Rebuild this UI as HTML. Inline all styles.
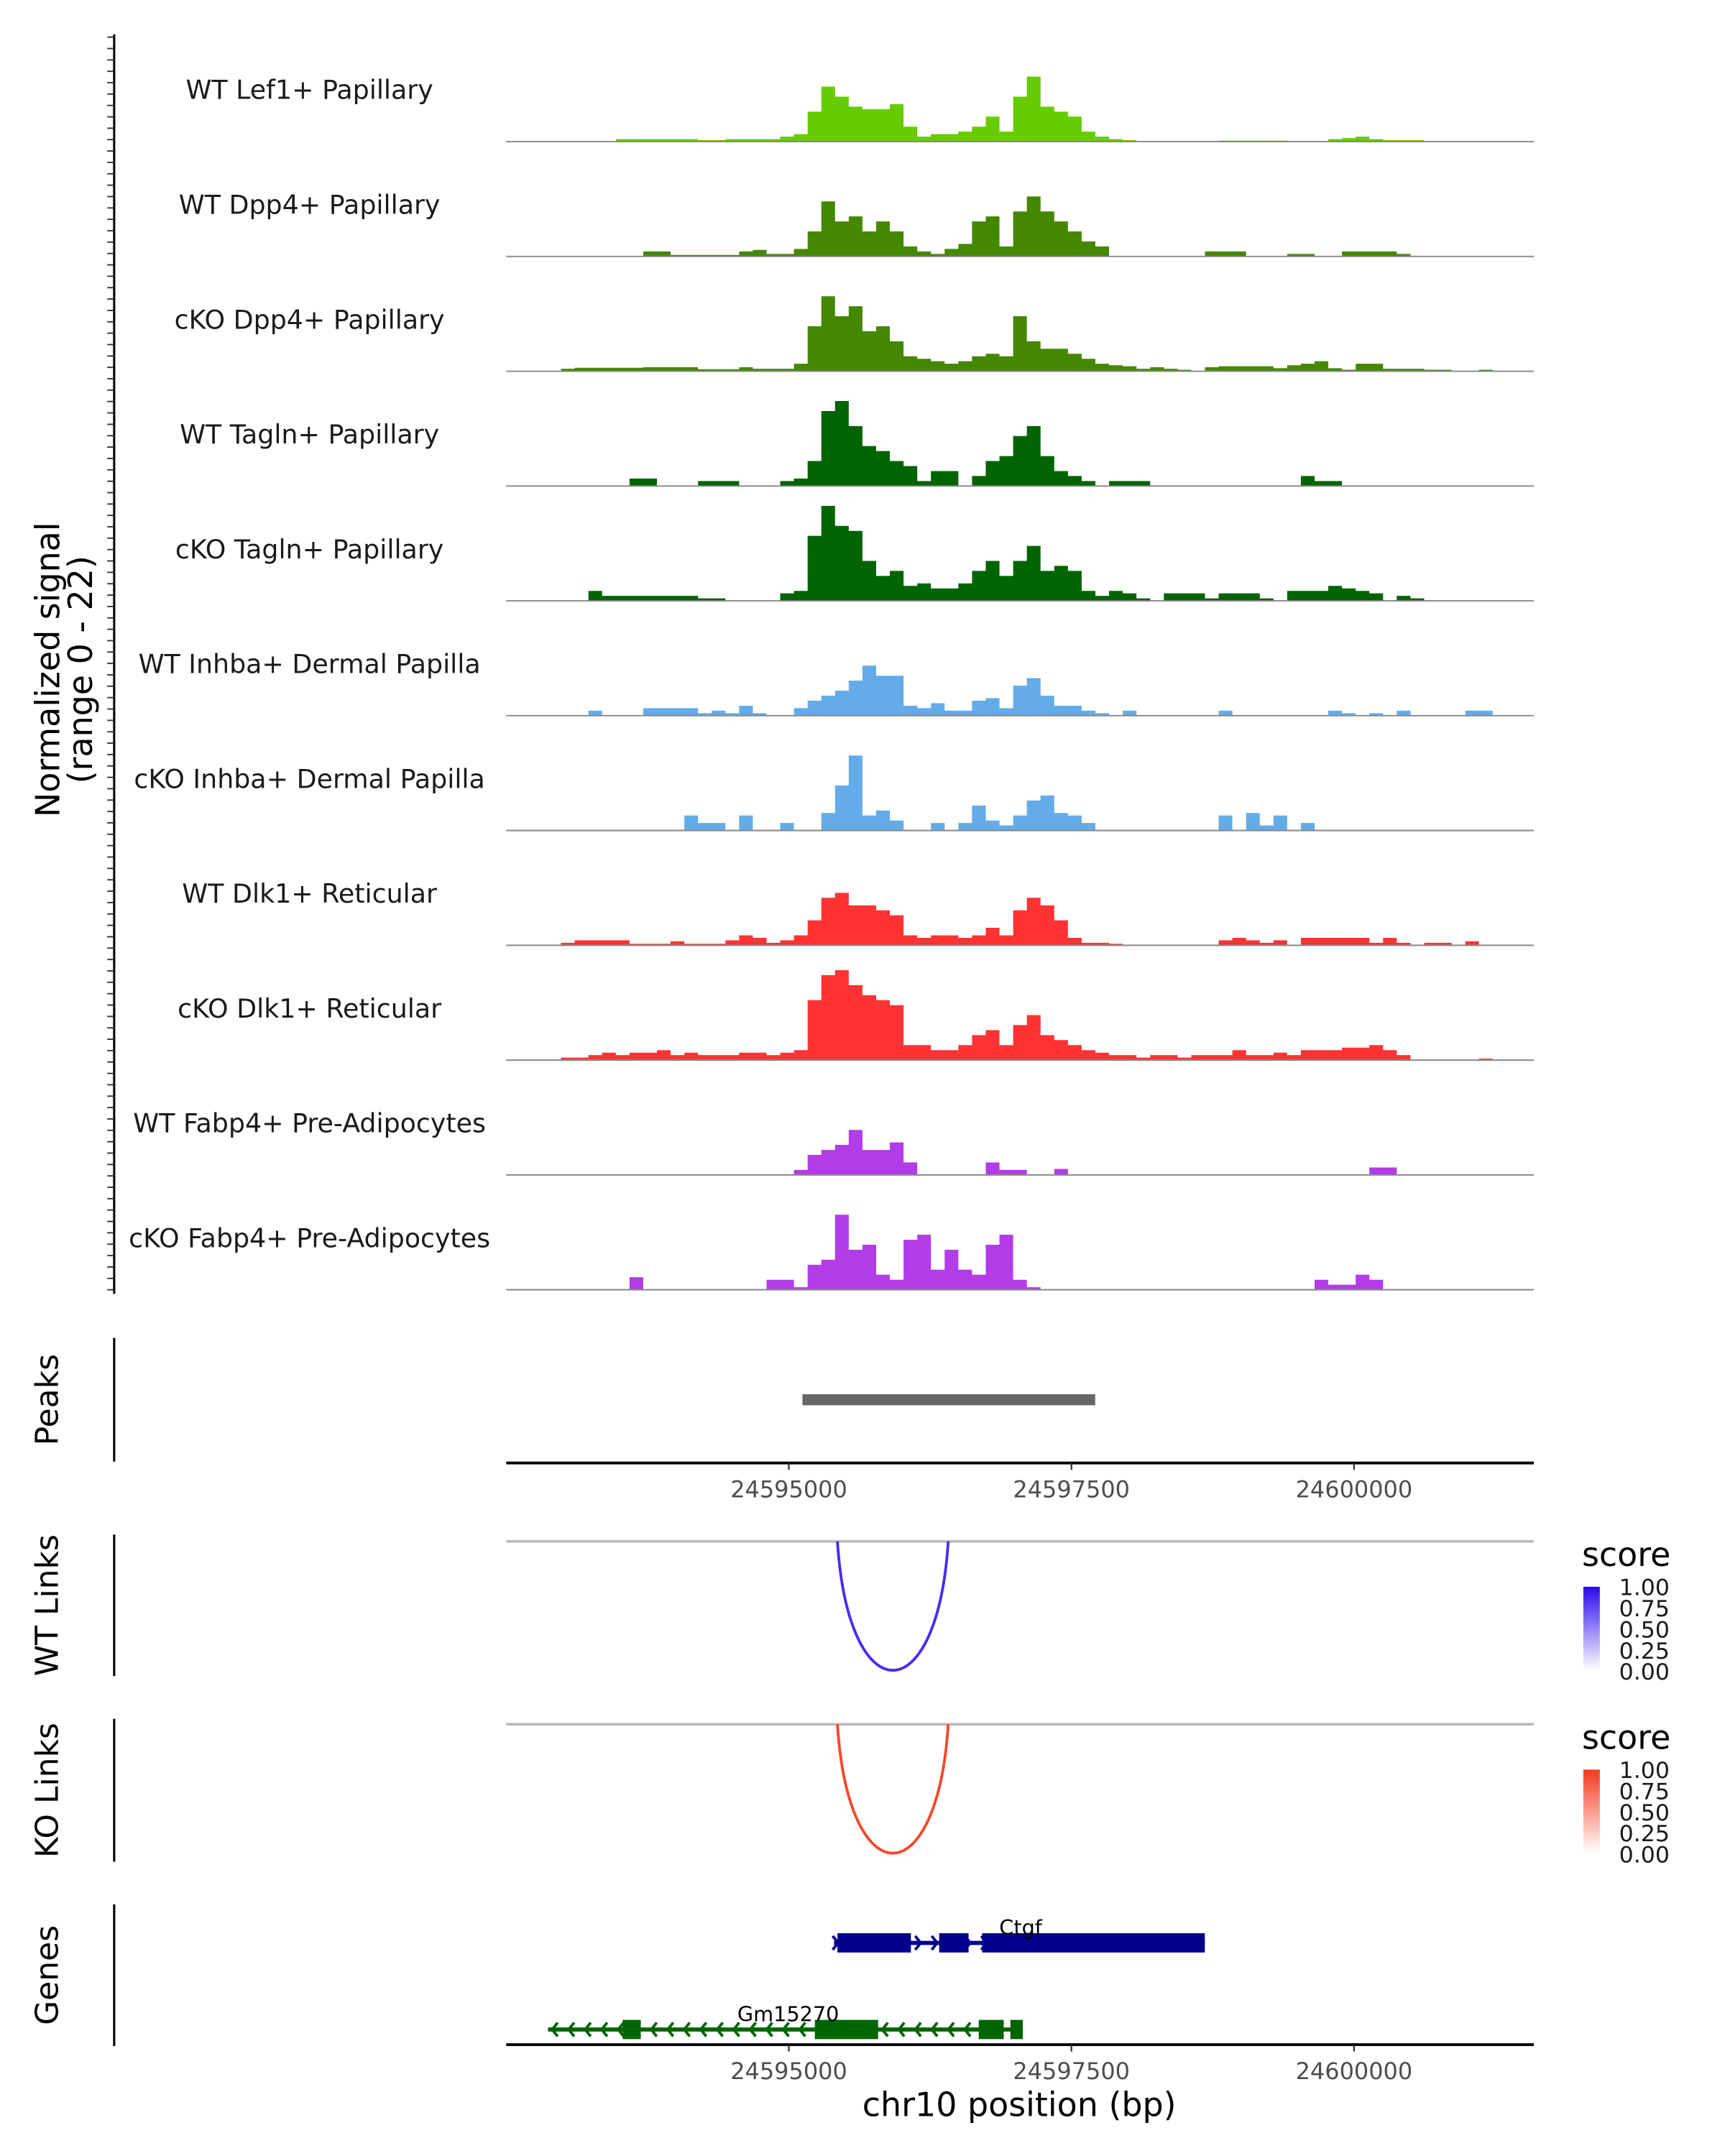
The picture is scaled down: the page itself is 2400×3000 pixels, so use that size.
<!DOCTYPE html>
<html><head><meta charset="utf-8"><style>
html,body{margin:0;padding:0;background:#fff}
svg{display:block}
text{font-family:"DejaVu Sans","Liberation Sans",sans-serif}
</style></head><body>
<svg id="chart" width="2400" height="3000" viewBox="0 0 1254 1568" preserveAspectRatio="none" xmlns="http://www.w3.org/2000/svg">
<rect width="1254" height="1568" fill="#fff"/>
<g id="tracks"></g>
<g id="axes"></g>
</svg>
<script>
const trackNames = ["WT Lef1+ Papillary","WT Dpp4+ Papillary","cKO Dpp4+ Papillary","WT Tagln+ Papillary","cKO Tagln+ Papillary","WT Inhba+ Dermal Papilla","cKO Inhba+ Dermal Papilla","WT Dlk1+ Reticular","cKO Dlk1+ Reticular","WT Fabp4+ Pre-Adipocytes","cKO Fabp4+ Pre-Adipocytes"];
const trackColors = ["#66cc00","#448800","#448800","#006400","#006400","#63ace8","#63ace8","#ff3333","#ff3333","#b13ce8","#b13ce8"];
// 75 bins each, normalized signal (0-22)
const s0 = [0,0,0,0,0,0,0,0,0.5,0.5,0.5,0.5,0.5,0.5,0.3,0.3,0.5,0.5,0.5,0.5,1,1.5,6,11,9,7,6.5,6.5,7.5,3,1,1.5,1.5,2,3,5,2,9,13,7,6,5,2,1,0.5,0.3,0,0,0,0,0,0,0.2,0.2,0.2,0.2,0.2,0,0,0,0.5,0.7,1,0.5,0.3,0.3,0.3,0,0,0,0,0,0,0,0];
const s1 = [0,0,0,0,0,0,0,0,0,0,1,1,0.3,0.3,0.3,0.3,0.3,1,1.3,0.5,0.5,1.5,5,11,7,8,5,7,5,2,1,0.5,1.5,2.5,7,8,2,9,12,9,7,5,3,2,0,0,0,0,0,0,0,1,1,1,0,0,0,0.5,0.5,0,0,1,1,1,1,0.5,0,0,0,0,0,0,0,0,0];
const s2 = [0,0,0,0,0.5,0.7,0.7,0.7,0.7,0.7,0.8,0.8,0.8,0.8,0.4,0.4,0.4,0.8,0.5,0.5,0.5,1.5,9,15,11,13,8,9,6,3,2.5,2,1.5,2,3,3.5,3,11,6,4.5,4.5,3.5,2.5,1.5,1.2,1,0.5,0.8,0.5,0.3,0,0.8,1,1,1,1,0.6,1.2,1.5,2,0.6,0.3,1.5,1.5,0.5,0.5,0.5,0.3,0.3,0,0,0.3,0,0,0];
const s3 = [0,0,0,0,0,0,0,0,0,1.5,1.5,0,0,0,1,1,1,0,0,0,1,1.5,5,15,17,12,8,7,5,4,1,3,3,0,2,5,6,10,12,6,3,2,1,0,1,1,1,0,0,0,0,0,0,0,0,0,0,0,2,1,1,0,0,0,0,0,0,0,0,0,0,0,0,0,0];
const s4 = [0,0,0,0,0,0,2,1,1,1,1,1,1,1,0.5,0.5,0,0,0,0,1.5,2,13,19,15,14,8,5,6,3,3.5,2.5,2.5,3.5,6,8,5,8,11,6,7,6,2,1,2,1.5,0.5,0,1.5,1.5,1.5,0.5,1.5,1.5,1.5,0.5,0,2,2,2,3,2.5,2,1.5,0,1,0.5,0,0,0,0,0,0,0,0];
const s5 = [0,0,0,0,0,0,1,0,0,0,1.5,1.5,1.5,1.5,0.5,1,0.5,2,0.5,0,0,1.5,3,4,5,7,10,8,8,2,1.5,2.5,1,1,3,3.5,1.5,6,7.5,4,2,2,1,0.5,0,1,0,0,0,0,0,0,1,0,0,0,0,0,0,0,1,0.5,0,0.5,0,1,0,0,0,0,1,1,0,0,0];
const s6 = [0,0,0,0,0,0,0,0,0,0,0,0,0,3,1.5,1.5,0,3,0,0,1.5,0,0,3.5,9,15,3,4,2,0,0,1.5,0,1.5,5,2,1,3,6,7,3.5,3,1.5,0,0,0,0,0,0,0,0,0,3,0,3.5,1,3,0,1.5,0,0,0,0,0,0,0,0,0,0,0,0,0,0,0,0];
const s7 = [0,0,0,0,0.5,1,1,1,1,0.3,0.3,0.3,0.8,0.3,0.3,0.3,1,2,1.5,0.5,1,2,5,9.5,10.5,8,8,7,6,2,1.5,2,2,1.5,2,3.5,2,7,9.5,8,5,1.5,0.5,0.5,0.3,0,0,0,0,0,0,0,1,1.5,1,0.5,1,0,1.5,1.5,1.5,1.5,1.5,0.5,1.5,0.5,0,0.5,0.5,0,0.8,0,0,0,0];
const s8 = [0,0,0,0,0.5,0.5,1,1.5,1,1.5,1.5,2,1,1.5,1,1,1,1.5,1.5,1,1.5,2,12,17,18,15,13,12,11,3,3,2,2,3,5,6,3,7,9,5,4,3,2,1.5,1,1,0.5,1,1,0.5,1,1,1,2,1,1,1.5,1,2,2,2,2.5,2.5,3,2,1,0,0,0,0,0,0.3,0,0,0];
const s9 = [0,0,0,0,0,0,0,0,0,0,0,0,0,0,0,0,0,0,0,0,0,1,4,5,6,9,5,5,6.5,2.5,0,0,0,0,0,2.5,1,1,0,0,1.2,0,0,0,0,0,0,0,0,0,0,0,0,0,0,0,0,0,0,0,0,0,0,1.5,1.5,0,0,0,0,0,0,0,0,0,0];
const s10 = [0,0,0,0,0,0,0,0,0,2.5,0,0,0,0,0,0,0,0,0,2,2,0.5,5,6,15,8,9,3,2,10,11,4,8,4,3,9,11,2,0.5,0,0,0,0,0,0,0,0,0,0,0,0,0,0,0,0,0,0,0,0,2,1,1,3,2,0,0,0,0,0,0,0,0,0,0,0];
const seriesValues = [s0,s1,s2,s3,s4,s5,s6,s7,s8,s9,s10];
const xTicks = [24595000,24597500,24600000];
const xTickLabels = ["24595000","24597500","24600000"];
const peakRanges = [[24595120,24597710]];
const linkArcs = [[24595430,24596410]];
const legendTicks = ["1.00","0.75","0.50","0.25","0.00"];
const ctgfExons = [[24595430,24596080],[24596330,24596590],[24596710,24598680]];
const ctgfSpan = [24595400,24598680];
const gmExons = [[24593530,24593690],[24595230,24595790],[24596680,24596900],[24596960,24597070]];
const gmSpan = [24592870,24597070];

const NS="http://www.w3.org/2000/svg";
const X0=368,X1=1115,BP0=24592500,BP1=24601590;
const xs = bp => X0+(bp-BP0)/(BP1-BP0)*(X1-X0);
const tracksG=document.getElementById('tracks');
const axesG=document.getElementById('axes');
function el(tag,attrs,parent,txt){const e=document.createElementNS(NS,tag);for(const k in attrs)e.setAttribute(k,attrs[k]);if(txt!==undefined)e.textContent=txt;parent.appendChild(e);return e;}
const TH=83.5, B0=103, YMAX=22, H=80;
seriesValues.forEach((vals,t)=>{
  const base=B0+t*TH;
  const g=el('g',{},tracksG);
  
  
  const n=vals.length, w=(X1-X0)/n;
  let d='M'+X0+','+base;
  vals.forEach((v,i)=>{const y=base-v/YMAX*H;d+=' L'+(X0+i*w).toFixed(2)+','+y.toFixed(2)+' L'+(X0+(i+1)*w).toFixed(2)+','+y.toFixed(2);});
  d+=' L'+X1+','+base+' Z';
  const p=el('path',{d:d,fill:trackColors[t]},g);
  
  
  const bl=el('line',{x1:X0,x2:X1,y1:base,y2:base,stroke:'#888','stroke-width':1},g);
  
  
  const lab=el('text',{x:225,y:base-31,'font-size':19,'text-anchor':'middle',fill:'#1a1a1a'},g,trackNames[t]);
  
  
});
el('line',{x1:83,x2:83,y1:25,y2:941,stroke:'#000','stroke-width':1.6},axesG);
for(let i=0;i<=110;i++){const y=27+i*(938-27)/110;const tk=el('line',{x1:78,x2:83,y1:y,y2:y,stroke:'#333','stroke-width':1},axesG);}
el('text',{x:0,y:0,'font-size':24,'text-anchor':'middle',transform:'translate(43,487) rotate(-90)'},axesG,'Normalized signal');
el('text',{x:0,y:0,'font-size':24,'text-anchor':'middle',transform:'translate(67,487) rotate(-90)'},axesG,'(range 0 - 22)');
function sidePanel(y1,y2,title,name){const l=el('line',{x1:83,x2:83,y1:y1,y2:y2,stroke:'#000','stroke-width':1.6},axesG);
 const t=el('text',{x:0,y:0,'font-size':23,'text-anchor':'middle',transform:'translate(42,'+((y1+y2)/2)+') rotate(-90)'},axesG,title);}
sidePanel(973,1063,'Peaks','peaks');
sidePanel(1116,1219,'WT Links','wt-links');
sidePanel(1250,1354,'KO Links','ko-links');
sidePanel(1385,1488,'Genes','genes');
peakRanges.forEach(r=>{const pk=el('rect',{x:xs(r[0]),y:1014,width:xs(r[1])-xs(r[0]),height:8,fill:'#666'},axesG);});
function xAxis(y,name){el('line',{x1:X0,x2:X1,y1:y,y2:y,stroke:'#000','stroke-width':2},axesG);
 xTicks.forEach((v,i)=>{const x=xs(v);el('line',{x1:x,x2:x,y1:y,y2:y+5,stroke:'#333','stroke-width':1.2},axesG);
 const t=el('text',{x:x,y:y+25,'font-size':16.7,'text-anchor':'middle',fill:'#4d4d4d'},axesG,xTickLabels[i]);});}
xAxis(1064,'peaks-x-axis');
xAxis(1487,'x-axis');
el('text',{x:741,y:1539,'font-size':24,'text-anchor':'middle'},axesG,'chr10 position (bp)');
function links(top,color,name,gradId,c1){el('line',{x1:X0,x2:X1,y1:top,y2:top,stroke:'#bbb','stroke-width':2},axesG);
 linkArcs.forEach(a=>{const xa=xs(a[0]),xb=xs(a[1]);const depth=94;
  const p=el('path',{d:'M'+xa+','+top+' C'+(xa+8)+','+(top+depth*1.33)+' '+(xb-8)+','+(top+depth*1.33)+' '+xb+','+top,fill:'none',stroke:color,'stroke-width':2},axesG);});
 const defs=el('defs',{},axesG);const lg=el('linearGradient',{id:gradId,x1:0,y1:0,x2:0,y2:1},defs);
 el('stop',{offset:0,'stop-color':c1},lg);el('stop',{offset:1,'stop-color':'#ffffff'},lg);
 el('text',{x:1150,y:top+18,'font-size':24},axesG,'score');
 const cb=el('rect',{x:1151,y:top+33,width:12,height:61,fill:'url(#'+gradId+')'},axesG);
 legendTicks.forEach((t,i)=>{el('text',{x:1177,y:top+39+i*15.4,'font-size':16.5,fill:'#1a1a1a'},axesG,t);});}
links(1121,'#4a2af0','wt-links','gwt','#2a0aee');
links(1254,'#f5472a','ko-links','gko','#f53a1f');
function gene(span,exons,y,color,label,lx,ly,dir,name){
 const g=el('g',{},axesG);
 el('line',{x1:xs(span[0]),x2:xs(span[1]),y1:y,y2:y,stroke:color,'stroke-width':3},g);
 for(let x=xs(span[0])+3;x<xs(span[1]);x+=12){el('path',{d:dir<0?'M'+(x+4)+','+(y-5)+' L'+x+','+y+' L'+(x+4)+','+(y+5):'M'+(x-4)+','+(y-5)+' L'+x+','+y+' L'+(x-4)+','+(y+5),fill:'none',stroke:color,'stroke-width':2},g);}
 exons.forEach(e=>{el('rect',{x:xs(e[0]),y:y-7,width:xs(e[1])-xs(e[0]),height:14,fill:color},g);});
 el('text',{x:lx,y:ly,'font-size':15,'text-anchor':'middle'},g,label);}
gene(ctgfSpan,ctgfExons,1413,'#00008b','Ctgf',742,1407,1,'gene-ctgf');
gene(gmSpan,gmExons,1476,'#006400','Gm15270',573,1470,-1,'gene-gm15270');
</script>
</body></html>
